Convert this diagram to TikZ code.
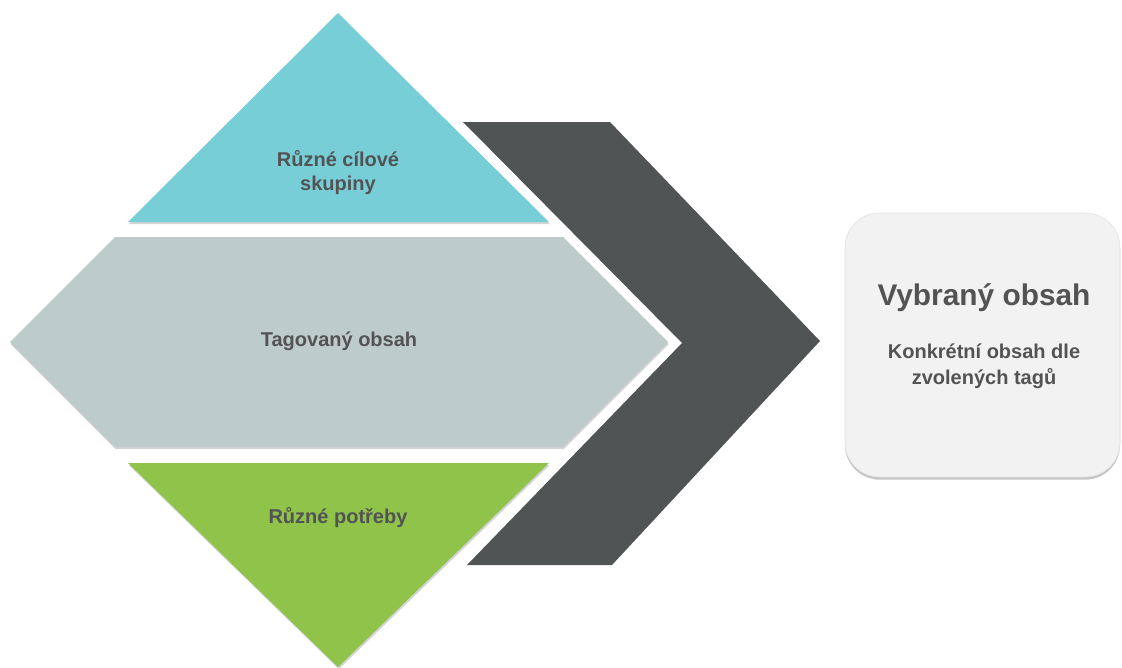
\documentclass[tikz,border=0pt]{standalone}
\usepackage{fontspec}
\setmainfont{Liberation Sans}
\usetikzlibrary{shadows}
\definecolor{cyanfill}{HTML}{77CED7}
\definecolor{greyfill}{HTML}{BDCCCB}
\definecolor{greenfill}{HTML}{8FC34A}
\definecolor{chevfill}{HTML}{505455}
\definecolor{boxfill}{HTML}{F2F2F2}
\definecolor{txtgrey}{HTML}{535353}
\tikzset{
	piece/.style={drop shadow={shadow xshift=0.6pt, shadow yshift=-1.6pt, opacity=0.35}},
	lbl/.style={text=txtgrey, font=\bfseries\fontsize{15}{18}\selectfont, align=center},
}
\begin{document}
\begin{tikzpicture}[x=0.75pt, y=-0.75pt]
		\useasboundingbox (0,0) rectangle (1122,668);
		
		% chevron
		\fill[chevfill] (463,122) -- (610,122) -- (820,341) -- (612,565) -- (467,565) -- (682,343) -- cycle;
		
		% pieces
		\fill[cyanfill, piece] (338,13) -- (549,222) -- (128,222) -- cycle;
		\fill[greyfill, piece] (10,342) -- (115,237) -- (563,237) -- (668,342) -- (563,447) -- (115,447) -- cycle;
		\fill[greenfill, piece] (128,463) -- (549,463) -- (338,667) -- cycle;
		
		% result box
		\fill[boxfill, draw=black!12, rounded corners=26pt, drop shadow={shadow xshift=0pt, shadow yshift=-2pt, opacity=0.45}] (845,213) rectangle (1120,477);
		
		\node[lbl] (groups) at (338,173) {Různé cílové\\skupiny};
		\node[lbl] (tagged) at (339,341) {Tagovaný obsah};
		\node[lbl] (needs) at (338,518) {Různé potřeby};
		\node[text=txtgrey, font=\bfseries\fontsize{22.4}{26}\selectfont] (title) at (984,298) {Vybraný obsah};
		\node[lbl, font=\bfseries\fontsize{15}{19.5}\selectfont] (desc) at (984,366) {Konkrétní obsah dle\\zvolených tagů};
		
	\end{tikzpicture}
\end{document}
